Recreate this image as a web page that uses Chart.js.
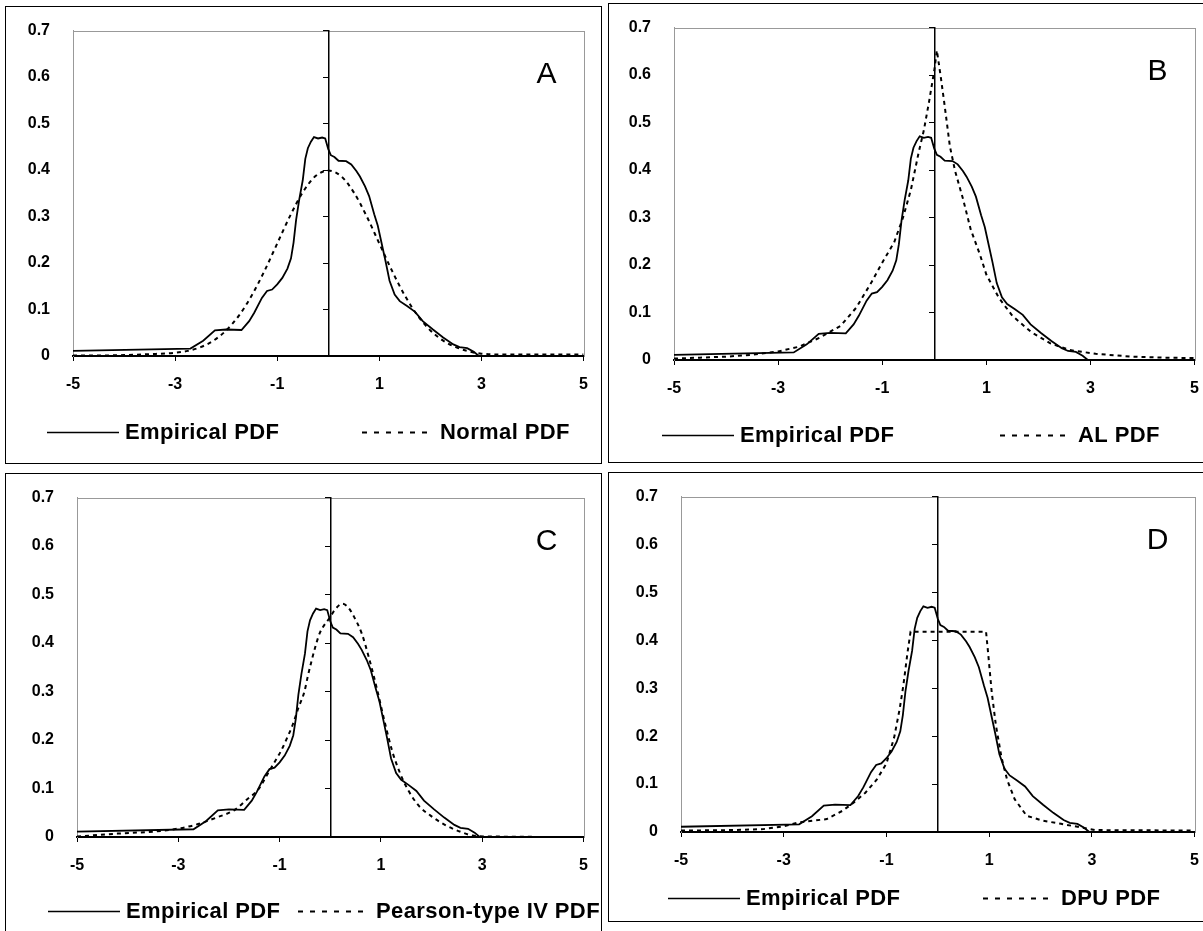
<!DOCTYPE html>
<html>
<head>
<meta charset="utf-8">
<script src="https://cdn.jsdelivr.net/npm/chart.js@4.4.1/dist/chart.umd.min.js"></script>
<style>
  html, body { margin: 0; padding: 0; background: #fff; overflow: hidden; }
  body { width: 1203px; height: 931px; position: relative; }
  .panel { position: absolute; box-sizing: border-box; border: 1px solid #000; }
  .panel canvas { position: absolute; left: -1px; top: -1px; }
</style>
</head>
<body>
<div class="panel" style="left:5px;top:6px;width:597px;height:458px"><canvas id="chartA" width="597" height="458"></canvas></div>
<div class="panel" style="left:608px;top:3px;width:605px;height:460px"><canvas id="chartB" width="605" height="460"></canvas></div>
<div class="panel" style="left:5px;top:473px;width:597px;height:470px"><canvas id="chartC" width="597" height="470"></canvas></div>
<div class="panel" style="left:608px;top:472px;width:605px;height:450px"><canvas id="chartD" width="605" height="450"></canvas></div>

<script>
// axis ticks
const xTicks = [-5, -3, -1, 1, 3, 5];
const yTicks = [0, 0.1, 0.2, 0.3, 0.4, 0.5, 0.6, 0.7];

// empirical pdf (same curve in every panel)
const empiricalX = [-5, -2.7, -2.45, -2.22, -2.0, -1.7, -1.55, -1.45, -1.3, -1.2, -1.1, -1.0, -0.9, -0.8, -0.73, -0.68,
  -0.63, -0.57, -0.5, -0.45, -0.4, -0.34, -0.28, -0.2, -0.12, -0.06, 0, 0.05, 0.12, 0.2, 0.35, 0.45, 0.55, 0.62,
  0.72, 0.8, 0.9, 0.97, 1.05, 1.12, 1.2, 1.3, 1.4, 1.55, 1.7, 1.85, 2.05, 2.25, 2.45, 2.57, 2.72, 2.85, 2.95, 5];
const empiricalY = [0.011, 0.016, 0.033, 0.055, 0.057, 0.056, 0.075, 0.093, 0.125, 0.14, 0.143, 0.154, 0.168, 0.188, 0.21, 0.244,
  0.293, 0.336, 0.378, 0.424, 0.447, 0.461, 0.471, 0.468, 0.47, 0.468, 0.445, 0.432, 0.428, 0.42, 0.419, 0.412, 0.398, 0.386,
  0.365, 0.344, 0.305, 0.28, 0.24, 0.205, 0.162, 0.132, 0.118, 0.107, 0.095, 0.075, 0.057, 0.04, 0.025, 0.019, 0.017, 0.009, 0, 0];

// fitted pdfs
const normalX = [-5, -4.5, -4, -3.5, -3, -2.75, -2.5, -2.25, -2, -1.75, -1.5, -1.25, -1, -0.75, -0.5, -0.25, 0,
  0.25, 0.5, 0.75, 1, 1.25, 1.5, 1.75, 2, 2.25, 2.5, 2.75, 3, 3.5, 4, 4.5, 5];
const normalY = [0.001, 0.001, 0.002, 0.004, 0.007, 0.011, 0.019, 0.033, 0.055, 0.087, 0.13, 0.183, 0.242, 0.301, 0.352, 0.387, 0.399,
  0.387, 0.352, 0.301, 0.242, 0.183, 0.13, 0.087, 0.055, 0.033, 0.019, 0.01, 0.005, 0.003, 0.003, 0.003, 0.003];

const alX = [-5, -4.5, -4, -3.5, -3, -2.6, -2.2, -1.8, -1.5, -1.2, -1.0, -0.77, -0.6, -0.45, -0.3, -0.2, -0.1, 0, 0.05,
  0.13, 0.2, 0.3, 0.4, 0.55, 0.7, 0.88, 1.0, 1.24, 1.5, 1.86, 2.23, 2.6, 3.1, 3.8, 4.4, 5];
const alY = [0.003, 0.005, 0.007, 0.011, 0.018, 0.028, 0.047, 0.072, 0.11, 0.165, 0.205, 0.248, 0.3, 0.358, 0.437, 0.484, 0.544, 0.61, 0.652,
  0.592, 0.535, 0.45, 0.398, 0.34, 0.275, 0.221, 0.18, 0.131, 0.093, 0.059, 0.035, 0.021, 0.013, 0.007, 0.005, 0.004];

const pearsonX = [-5, -4.2, -3.3, -2.7, -2.25, -1.87, -1.65, -1.42, -1.27, -1.12, -0.97, -0.85, -0.74, -0.63, -0.51, -0.44,
  -0.36, -0.29, -0.21, 0, 0.1, 0.24, 0.35, 0.47, 0.62, 0.77, 0.92, 1.07, 1.22, 1.38, 1.53, 1.75, 1.98, 2.28, 2.59, 2.81, 3.2, 5];
const pearsonY = [0.001, 0.007, 0.013, 0.024, 0.04, 0.057, 0.077, 0.098, 0.124, 0.151, 0.178, 0.205, 0.232, 0.266, 0.3, 0.333,
  0.367, 0.394, 0.42, 0.454, 0.47, 0.481, 0.474, 0.454, 0.42, 0.367, 0.306, 0.239, 0.178, 0.131, 0.098, 0.064, 0.044, 0.024, 0.01, 0.003, 0.001, 0];

const dpuX = [-5, -4, -3.4, -3.0, -2.7, -2.16, -1.86, -1.64, -1.41, -1.19, -1.0, -0.85, -0.74, -0.67, -0.59, -0.53,
  0.94, 0.98, 1.05, 1.13, 1.24, 1.35, 1.5, 1.73, 2.03, 2.4, 2.77, 3.07, 5];
const dpuY = [0.003, 0.004, 0.006, 0.012, 0.02, 0.027, 0.044, 0.061, 0.082, 0.109, 0.143, 0.197, 0.258, 0.306, 0.374, 0.418,
  0.418, 0.374, 0.292, 0.224, 0.156, 0.109, 0.068, 0.034, 0.024, 0.017, 0.01, 0.004, 0.003];

const FONT = "'Liberation Sans', Arial, sans-serif";

const panels = [
  { id: "chartA", letter: "A", fitLabel: "Normal PDF", fitX: normalX, fitY: normalY, smooth: true,
    area: { left: 68, top: 18, right: 587, bottom: 350 }, legendX: [42, 357], legendY: 426 },
  { id: "chartB", letter: "B", fitLabel: "AL PDF", fitX: alX, fitY: alY, smooth: false,
    area: { left: 66, top: 18, right: 591, bottom: 357 }, legendX: [54, 392], legendY: 432 },
  { id: "chartC", letter: "C", fitLabel: "Pearson-type IV PDF", fitX: pearsonX, fitY: pearsonY, smooth: true,
    area: { left: 72, top: 17, right: 586, bottom: 364 }, legendX: [43, 293], legendY: 438 },
  { id: "chartD", letter: "D", fitLabel: "DPU PDF", fitX: dpuX, fitY: dpuY, smooth: false,
    area: { left: 73, top: 16, right: 587, bottom: 360 }, legendX: [60, 375], legendY: 426 }
];

const toPoints = (xs, ys) => xs.map((x, i) => ({ x: x, y: ys[i] }));

// plot frame, panel letter and the legend under the plot
const panelDecor = {
  id: "panelDecor",
  beforeDraw(chart) {
    const a = chart.chartArea, ctx = chart.ctx;
    ctx.save();
    ctx.strokeStyle = "#999";
    ctx.lineWidth = 1;
    ctx.strokeRect(Math.round(a.left) + 0.5, Math.round(a.top) + 0.5, Math.round(a.right - a.left), Math.round(a.bottom - a.top));
    ctx.restore();
  },
  afterDraw(chart, args, opts) {
    const a = chart.chartArea, ctx = chart.ctx;
    ctx.save();
    ctx.fillStyle = "#000";
    ctx.font = "30px " + FONT;
    ctx.textAlign = "center";
    ctx.textBaseline = "middle";
    ctx.fillText(opts.letter, a.right - 37, a.top + 44);

    ctx.font = "bold 22px " + FONT;
    ctx.textAlign = "left";
    ctx.letterSpacing = "0.4px";
    chart.data.datasets.forEach((ds, i) => {
      const x0 = opts.legendX[i], y = opts.legendY;
      ctx.strokeStyle = "#000";
      ctx.lineWidth = ds.borderDash ? 2 : 1.6;
      ctx.setLineDash(ds.borderDash ? [5, 7] : []);
      ctx.beginPath();
      ctx.moveTo(x0, y + 0.5);
      ctx.lineTo(x0 + 72, y + 0.5);
      ctx.stroke();
      ctx.setLineDash([]);
      ctx.fillText(ds.label, x0 + 78, y + 1);
    });
    ctx.restore();
  }
};

const tickFont = { family: FONT, size: 16, weight: "bold" };

panels.forEach(p => {
  const canvas = document.getElementById(p.id);
  const W = canvas.width, H = canvas.height;
  new Chart(canvas.getContext("2d"), {
    type: "line",
    data: {
      datasets: [
        { label: "Empirical PDF", data: toPoints(empiricalX, empiricalY), borderColor: "#000", borderWidth: 1.8,
          pointRadius: 0, tension: 0, fill: false },
        { label: p.fitLabel, data: toPoints(p.fitX, p.fitY), borderColor: "#000", borderWidth: 2,
          borderDash: [4, 4], pointRadius: 0, fill: false,
          cubicInterpolationMode: p.smooth ? "monotone" : "default", tension: 0 }
      ]
    },
    options: {
      responsive: false,
      animation: false,
      devicePixelRatio: 1,
      layout: { padding: { left: 0, top: p.area.top, right: W - p.area.right, bottom: 0 } },
      plugins: {
        legend: { display: false },
        tooltip: { enabled: false },
        panelDecor: { letter: p.letter, legendX: p.legendX, legendY: p.legendY }
      },
      scales: {
        x: {
          type: "linear", min: -5, max: 5,
          afterBuildTicks: s => { s.ticks = xTicks.map(v => ({ value: v })); },
          afterFit: s => { s.height = H - p.area.bottom; },
          grid: { display: true, drawOnChartArea: false, drawTicks: true, tickLength: 5, color: "#000", lineWidth: 1 },
          border: { display: true, color: "#000", width: 2 },
          ticks: { padding: 14, color: "#000", font: tickFont, maxRotation: 0, autoSkip: false, callback: v => String(v) }
        },
        y: {
          type: "linear", min: 0, max: 0.7,
          afterBuildTicks: s => { s.ticks = yTicks.map(v => ({ value: v })); },
          afterFit: s => { s.width = p.area.left; },
          grid: { display: false },
          border: { display: true, color: "#999", width: 1 },
          ticks: { padding: 15, color: "#000", font: tickFont, autoSkip: false, callback: v => (v === 0 ? "0" : v.toFixed(1)) }
        },
        yZero: {
          type: "linear", min: 0, max: 0.7, position: { x: 0 },
          afterBuildTicks: s => { s.ticks = yTicks.map(v => ({ value: v })); },
          grid: { display: true, drawOnChartArea: false, drawTicks: true, tickLength: 5, color: "#000", lineWidth: 1 },
          border: { display: true, color: "#000", width: 1.5 },
          ticks: { display: false }
        }
      }
    },
    plugins: [panelDecor]
  });
});
</script>
</body>
</html>
